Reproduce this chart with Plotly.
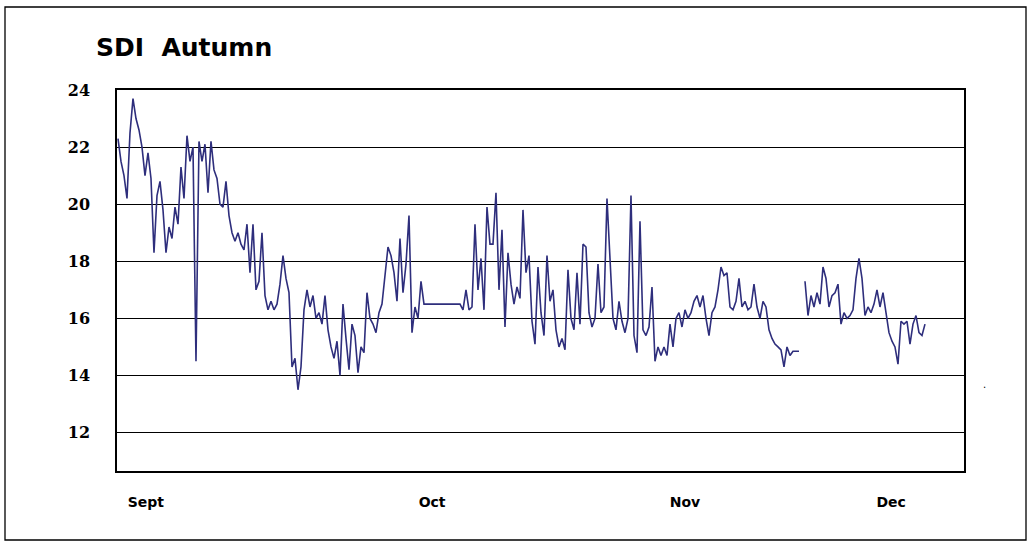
import plotly.graph_objects as go

# SDI readings, one sample per step
sdi = [
    22.3, 21.5, 21.0, 20.2, 22.5, 23.7, 23.0, 22.6, 22.0, 21.0,
    21.8, 20.9, 18.3, 20.3, 20.8, 19.8, 18.3, 19.2, 18.8, 19.9,
    19.3, 21.3, 20.2, 22.4, 21.5, 22.0, 14.5, 22.2, 21.5, 22.1,
    20.4, 22.2, 21.2, 20.9, 20.0, 19.9, 20.8, 19.6, 19.0, 18.7,
    19.0, 18.6, 18.4, 19.3, 17.6, 19.3, 17.0, 17.3, 19.0, 16.8,
    16.3, 16.6, 16.3, 16.5, 17.2, 18.2, 17.4, 16.9, 14.3, 14.6,
    13.5, 14.3, 16.3, 17.0, 16.4, 16.8, 16.0, 16.2, 15.8, 16.8,
    15.6, 15.0, 14.6, 15.2, 14.0, 16.5, 15.3, 14.2, 15.8, 15.4,
    14.1, 15.0, 14.8, 16.9, 16.0, 15.8, 15.5, 16.2, 16.5, 17.5,
    18.5, 18.2, 17.6, 16.6, 18.8, 16.9, 17.9, 19.6, 15.5, 16.4,
    16.0, 17.3, 16.5, 16.5, 16.5, 16.5, 16.5, 16.5, 16.5, 16.5,
    16.5, 16.5, 16.5, 16.5, 16.5, 16.3, 17.0, 16.3, 16.4, 19.3,
    17.0, 18.1, 16.3, 19.9, 18.6, 18.6, 20.4, 17.0, 19.1, 15.7,
    18.3, 17.2, 16.5, 17.1, 16.7, 19.8, 17.6, 18.2, 15.9, 15.1,
    17.8, 16.2, 15.4, 18.2, 16.6, 17.0, 15.6, 15.0, 15.3, 14.9,
    17.7, 16.0, 15.6, 17.6, 15.8, 18.6, 18.5, 16.2, 15.7, 16.0,
    17.9, 16.2, 16.4, 20.2, 17.8, 16.0, 15.6, 16.6, 15.9, 15.5,
    16.0, 20.3, 15.4, 14.8, 19.4, 15.6, 15.4, 15.7, 17.1, 14.5,
    15.0, 14.7, 15.0, 14.7, 15.8, 15.0, 16.0, 16.2, 15.7, 16.3,
    16.0, 16.2, 16.6, 16.8, 16.4, 16.8, 16.0, 15.4, 16.2, 16.4,
    17.0, 17.8, 17.5, 17.6, 16.4, 16.3, 16.6, 17.4, 16.4, 16.6,
    16.3, 16.4, 17.2, 16.4, 16.0, 16.6, 16.4, 15.6, 15.3, 15.1,
    15.0, 14.9, 14.3, 15.0, 14.7, 14.85, 14.85, 14.85, None, 17.3,
    16.1, 16.8, 16.4, 16.9, 16.5, 17.8, 17.4, 16.4, 16.8, 16.9,
    17.2, 15.8, 16.2, 16.0, 16.1, 16.3, 17.4, 18.1, 17.4, 16.1,
    16.4, 16.2, 16.5, 17.0, 16.4, 16.9, 16.2, 15.5, 15.2, 15.0,
    14.4, 15.9, 15.8, 15.9, 15.1, 15.8, 16.1, 15.5, 15.4, 15.8,
]
sample = list(range(len(sdi)))

months = ["Sept", "Oct", "Nov", "Dec"]
month_at = [9.3, 104.7, 189.0, 257.7]   # sample index where each month label sits
y_ticks = [12, 14, 16, 18, 20, 22, 24]

W, H = 1030, 542
L, R, T, B = 117, 66, 90, 71
pw, ph = W - L - R, H - T - B

def px(x):
    return (x - L) / pw

def py(y):
    return (H - B - y) / ph

fig = go.Figure()
fig.add_trace(go.Scatter(
    x=sample, y=sdi, mode="lines",
    line=dict(color="#2e2e7c", width=1.6),
    connectgaps=False, hoverinfo="skip", showlegend=False,
))

fig.update_layout(
    width=W, height=H,
    margin=dict(l=L, r=R, t=T, b=B, pad=0),
    paper_bgcolor="white", plot_bgcolor="white",
    showlegend=False,
    xaxis=dict(
        range=[-0.33, -0.33 + pw / 3.0],
        tickvals=month_at, ticktext=months,
        tickfont=dict(family="DejaVu Sans", size=14, color="black", weight="bold"),
        ticks="", ticklabelstandoff=17,
        showgrid=False, zeroline=False,
        showline=True, linecolor="black", linewidth=1.5, mirror=True,
    ),
    yaxis=dict(
        range=[24 - (H - B - T) / 28.55, 24.0],
        tickvals=y_ticks, ticktext=[str(v) for v in y_ticks],
        tickfont=dict(family="DejaVu Serif", size=16, color="black", weight="bold"),
        ticks="", ticklabelstandoff=22,
        showgrid=True, gridcolor="black", gridwidth=1.3,
        zeroline=False,
        showline=True, linecolor="black", linewidth=1.5, mirror=True,
    ),
    annotations=[
        dict(text="SDI\u00a0 Autumn", xref="paper", yref="paper",
             x=px(94), y=py(48), xanchor="left", yanchor="middle",
             showarrow=False,
             font=dict(family="DejaVu Sans", size=25, color="black", weight="bold")),
        dict(text=".", xref="paper", yref="paper",
             x=px(985), y=py(384), xanchor="center", yanchor="middle",
             showarrow=False, font=dict(family="DejaVu Sans", size=10, color="black")),
    ],
    shapes=[
        dict(type="rect", xref="paper", yref="paper",
             x0=px(5), x1=px(1026), y0=py(540), y1=py(7),
             line=dict(color="black", width=1.3), fillcolor="rgba(0,0,0,0)", layer="below"),
    ],
)

fig.write_html("out.html", config={"displayModeBar": False},
               post_script="document.body.style.margin='0';")
